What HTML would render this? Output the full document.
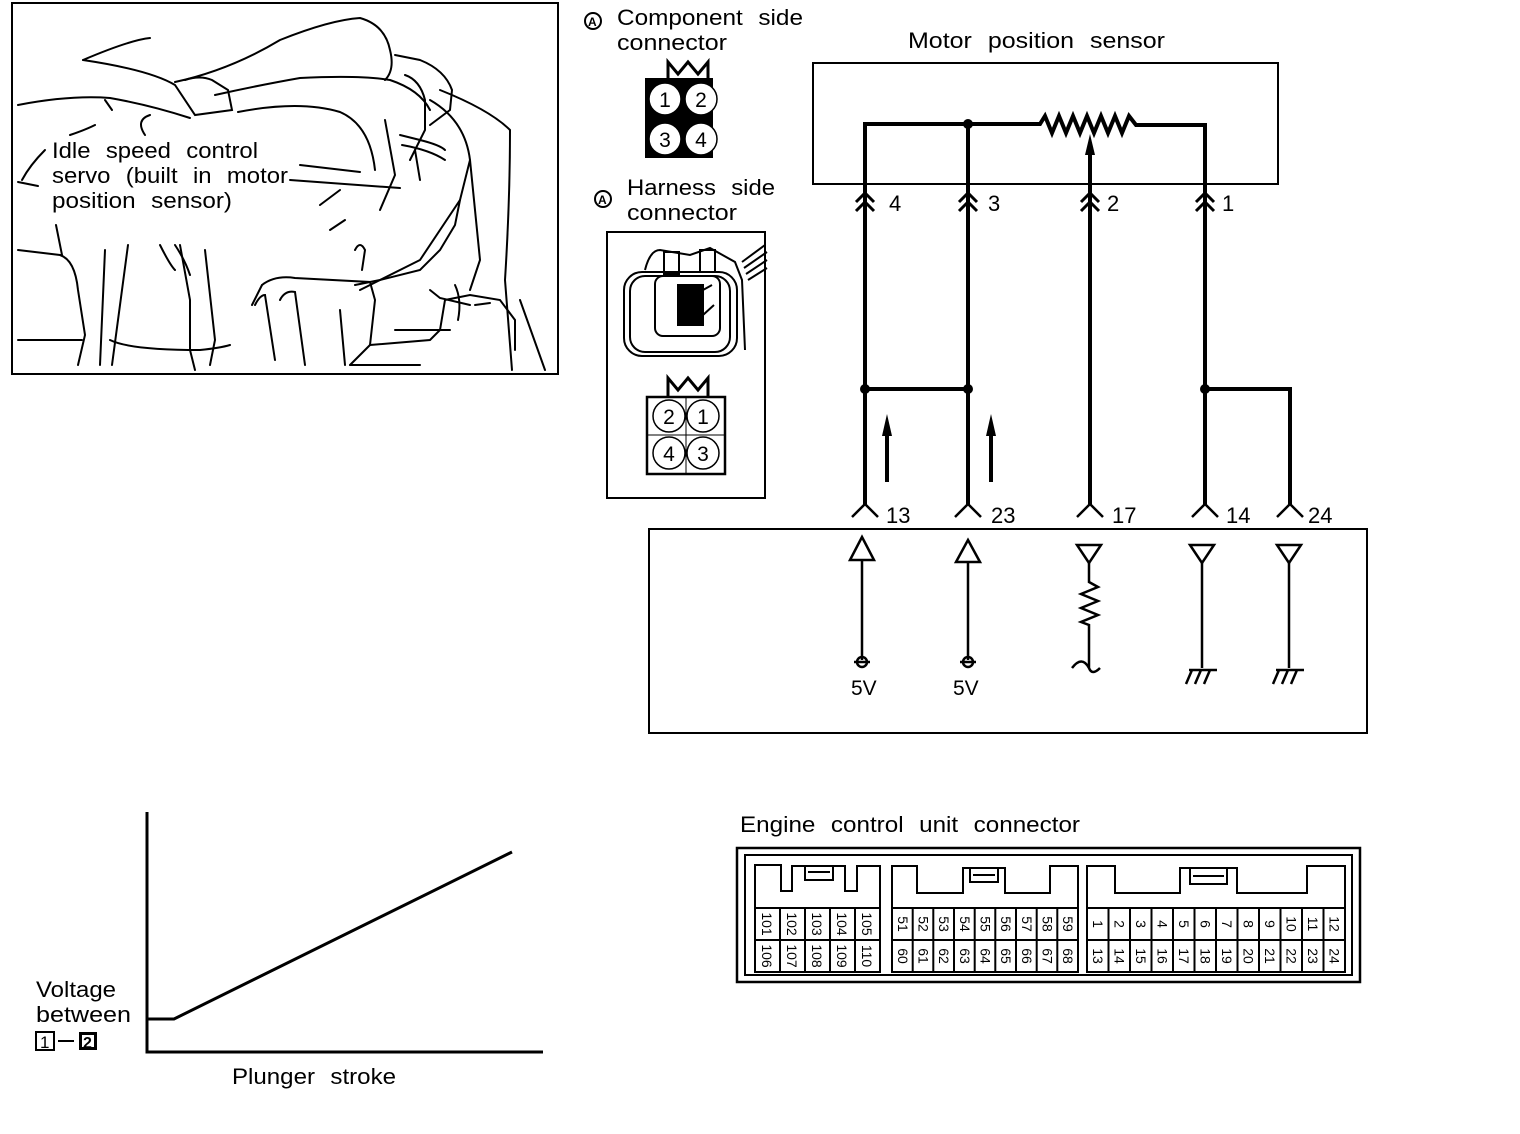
<!DOCTYPE html>
<html><head><meta charset="utf-8"><style>
html,body{margin:0;padding:0;background:#fff;}
svg{display:block;}
text{font-family:"Liberation Sans",Arial,sans-serif;fill:#000;}
.l{font-size:22px;word-spacing:8px;}
.c{font-size:14px;}
</style></head><body>
<svg width="1520" height="1134" viewBox="0 0 1520 1134" xmlns="http://www.w3.org/2000/svg">
<rect x="0" y="0" width="1520" height="1134" fill="#fff"/>
<!-- Illustration -->
<rect x="12" y="3" width="546" height="371" fill="none" stroke="#000" stroke-width="2"/>
<g fill="none" stroke="#000" stroke-width="2" stroke-linecap="round">
<path d="M83 60 Q130 40 150 38"/>
<path d="M83 60 Q150 70 175 85 L195 115 L232 110 L228 90 L212 80 Q200 75 185 80"/>
<path d="M175 82 Q230 70 280 40 Q330 20 360 18 Q385 25 390 50 Q395 70 385 80"/>
<path d="M215 95 Q260 85 300 78 Q360 75 390 80 Q420 90 430 110"/>
<path d="M238 112 Q300 100 340 112 Q370 125 375 170"/>
<path d="M18 105 Q70 95 110 98 Q150 105 190 118"/>
<path d="M105 100 L112 110 M70 135 Q85 130 95 125 M150 115 Q135 120 145 135"/>
<path d="M395 55 L420 60 Q445 70 452 90 L450 110 L430 125"/>
<path d="M405 75 Q420 80 425 100 L425 130 L410 160"/>
<path d="M430 100 Q465 120 470 160 L460 200 L420 260 L380 280 L360 290"/>
<path d="M440 90 Q490 110 510 130 Q510 200 505 280 L512 370"/>
<path d="M470 160 L480 260 L470 290 M520 300 L545 370"/>
<path d="M290 180 L400 188 M300 165 L360 172"/>
<path d="M45 150 Q30 165 22 180 M18 182 L38 186"/>
<path d="M56 225 L62 255 M18 250 L60 255 Q75 260 78 290 L85 335 L78 365"/>
<path d="M18 340 L82 340 M105 250 L100 365 M128 245 L112 365"/>
<path d="M180 245 L190 300 L190 350 L195 370 M205 250 L215 340 L210 365"/>
<path d="M110 340 Q130 350 200 350 Q220 348 230 345"/>
<path d="M175 245 Q185 260 190 275 M160 245 Q170 265 175 270"/>
<path d="M262 285 Q275 275 295 278 L370 282 L375 300 L370 345 L350 365"/>
<path d="M262 285 L252 305 M255 305 Q260 295 265 295 L275 360 M280 300 Q285 290 295 292 L305 365"/>
<path d="M355 285 L380 280 L420 270 L440 250 L455 225 L460 200"/>
<path d="M370 345 L430 340 L440 330 L445 300 L470 295 L500 300 L515 320 L515 350"/>
<path d="M430 290 L440 298 L470 305 M475 305 L490 303"/>
<path d="M395 330 L450 330 M455 285 Q462 300 458 320"/>
<path d="M340 310 L345 365 M350 365 L420 365"/>
<path d="M355 250 Q360 240 365 250 L362 270 M385 120 L395 175 L380 210"/>
<path d="M402 145 Q430 150 445 160 M400 135 L420 140 Q440 145 445 150"/>
<path d="M415 150 L420 180 M330 230 L345 220 M320 205 L340 190"/>
</g>
<text class="l" x="52" y="158" textLength="206" lengthAdjust="spacingAndGlyphs">Idle speed control</text>
<text class="l" x="52" y="183" textLength="236" lengthAdjust="spacingAndGlyphs">servo (built in motor</text>
<text class="l" x="52" y="208" textLength="180" lengthAdjust="spacingAndGlyphs">position sensor)</text>

<!-- Connector labels -->
<g fill="none" stroke="#000" stroke-width="2">
<circle cx="593" cy="21" r="8"/><circle cx="603" cy="199" r="8"/>
</g>
<text x="588" y="26" style="font-size:12px;font-weight:bold">A</text>
<text x="598" y="204" style="font-size:12px;font-weight:bold">A</text>
<text class="l" x="617" y="25" textLength="186" lengthAdjust="spacingAndGlyphs">Component side</text>
<text class="l" x="617" y="50" textLength="110" lengthAdjust="spacingAndGlyphs">connector</text>
<text class="l" x="627" y="195" textLength="148" lengthAdjust="spacingAndGlyphs">Harness side</text>
<text class="l" x="627" y="220" textLength="110" lengthAdjust="spacingAndGlyphs">connector</text>

<!-- component connector -->
<rect x="645" y="78" width="68" height="80" fill="#000"/>
<path d="M668 78 L668 62 L678 74 L688 62 L698 74 L708 62 L708 78" fill="none" stroke="#000" stroke-width="3"/>
<g fill="#fff" stroke="#000" stroke-width="1.5">
<circle cx="665" cy="99" r="16"/><circle cx="701" cy="99" r="16"/>
<circle cx="665" cy="139" r="16"/><circle cx="701" cy="139" r="16"/>
</g>
<g style="font-size:21px" text-anchor="middle">
<text x="665" y="107">1</text><text x="701" y="107">2</text>
<text x="665" y="147">3</text><text x="701" y="147">4</text>
</g>

<!-- harness box -->
<path d="M607 232 H765 V498 H607 Z" fill="none" stroke="#000" stroke-width="2"/>
<g fill="none" stroke="#000" stroke-width="2">
<rect x="624" y="272" width="113" height="84" rx="18"/>
<rect x="630" y="276" width="100" height="76" rx="15"/>
<rect x="655" y="276" width="65" height="60" rx="8"/>
<path d="M645 270 Q650 250 660 250 L690 255 L710 248 L735 262 L742 280 L745 350"/>
<rect x="664" y="252" width="15" height="22"/><rect x="700" y="250" width="15" height="22"/>
<path d="M742 262 L765 245 M744 268 L767 252 M746 274 L767 260 M748 280 L767 268"/>
<rect x="678" y="285" width="25" height="40" fill="#000"/>
<path d="M703 290 L712 285 M703 315 L714 305"/>
</g>
<!-- harness pin map -->
<rect x="647" y="397" width="78" height="77" fill="none" stroke="#000" stroke-width="2.5"/>
<path d="M668 397 L668 378 L678 390 L688 378 L698 390 L708 378 L708 397" fill="none" stroke="#000" stroke-width="3"/>
<path d="M686 397 V474 M647 435 H725" stroke="#000" stroke-width="1"/>
<g fill="#fff" stroke="#000" stroke-width="1.5">
<circle cx="669" cy="416" r="16"/><circle cx="703" cy="416" r="16"/>
<circle cx="669" cy="453" r="16"/><circle cx="703" cy="453" r="16"/>
</g>
<g style="font-size:21px" text-anchor="middle">
<text x="669" y="424">2</text><text x="703" y="424">1</text>
<text x="669" y="461">4</text><text x="703" y="461">3</text>
</g>

<!-- Motor position sensor -->
<text class="l" x="908" y="48" textLength="257" lengthAdjust="spacingAndGlyphs">Motor position sensor</text>
<rect x="813" y="63" width="465" height="121" fill="none" stroke="#000" stroke-width="2"/>
<g fill="none" stroke="#000" stroke-width="4">
<path d="M865 505 V124 H1040 L1045 116 L1052 133 L1059 116 L1066 133 L1073 116 L1080 133 L1087 116 L1094 133 L1101 116 L1108 133 L1115 116 L1122 133 L1129 116 L1136 125 H1205 V505"/>
<path d="M968 124 V505"/>
<path d="M1090 505 V150"/>
<path d="M865 389 H968 M1205 389 H1290 V505"/>
<path d="M887 482 V430 M991 482 V430"/>
</g>
<g fill="#000">
<path d="M1090 134 L1085 155 H1095 Z"/>
<circle cx="968" cy="124" r="5"/>
<circle cx="865" cy="389" r="5"/><circle cx="968" cy="389" r="5"/><circle cx="1205" cy="389" r="5"/>
<path d="M887 414 L882 436 H892 Z"/><path d="M991 414 L986 436 H996 Z"/>
</g>
<g fill="none" stroke="#000" stroke-width="3">
<path d="M856 202 L865 193 L874 202 M856 211 L865 202 L874 211"/>
<path d="M959 202 L968 193 L977 202 M959 211 L968 202 L977 211"/>
<path d="M1081 202 L1090 193 L1099 202 M1081 211 L1090 202 L1099 211"/>
<path d="M1196 202 L1205 193 L1214 202 M1196 211 L1205 202 L1214 211"/>
</g>
<g style="font-size:22px">
<text x="889" y="211">4</text><text x="988" y="211">3</text><text x="1107" y="211">2</text><text x="1222" y="211">1</text>
</g>

<!-- ECU -->
<g fill="none" stroke="#000" stroke-width="2.5">
<path d="M852 517 L865 504 L878 517"/><path d="M955 517 L968 504 L981 517"/>
<path d="M1077 517 L1090 504 L1103 517"/><path d="M1192 517 L1205 504 L1218 517"/>
<path d="M1277 517 L1290 504 L1303 517"/>
</g>
<g style="font-size:22px">
<text x="886" y="523">13</text><text x="991" y="523">23</text><text x="1112" y="523">17</text><text x="1226" y="523">14</text><text x="1308" y="523">24</text>
</g>
<rect x="649" y="529" width="718" height="204" fill="none" stroke="#000" stroke-width="2"/>
<g fill="none" stroke="#000" stroke-width="2.5">
<path d="M862 537 L850 560 H874 Z"/><path d="M968 540 L956 562 H980 Z"/>
<path d="M862 560 V660 M968 562 V660"/>
<circle cx="862" cy="662" r="5"/><circle cx="968" cy="662" r="5"/>
<path d="M854 662 H870 M960 662 H976"/>
<path d="M1077 545 H1101 L1089 563 Z"/><path d="M1190 545 H1214 L1202 563 Z"/><path d="M1277 545 H1301 L1289 563 Z"/>
<path d="M1089 563 V582 L1098 587 L1081 594 L1098 601 L1081 608 L1098 615 L1081 622 L1089 625 V668 Q1092 676 1100 668 M1089 668 Q1082 655 1072 668"/>
<path d="M1202 563 V668 M1289 563 V668"/>
<path d="M1189 670 H1217 M1192 670 L1186 684 M1201 670 L1195 684 M1210 670 L1204 684"/>
<path d="M1276 670 H1304 M1279 670 L1273 684 M1288 670 L1282 684 M1297 670 L1291 684"/>
</g>
<g style="font-size:21px">
<text x="851" y="695">5V</text><text x="953" y="695">5V</text>
</g>

<!-- Graph -->
<g fill="none" stroke="#000" stroke-width="3">
<path d="M147 812 V1052 H543"/>
<path d="M147 1019 H174 L512 852"/>
</g>
<text class="l" x="36" y="997" textLength="80" lengthAdjust="spacingAndGlyphs">Voltage</text>
<text class="l" x="36" y="1022" textLength="95" lengthAdjust="spacingAndGlyphs">between</text>
<text class="l" x="232" y="1084" textLength="164" lengthAdjust="spacingAndGlyphs">Plunger stroke</text>
<rect x="36" y="1032" width="18" height="18" fill="none" stroke="#000" stroke-width="2"/>
<text x="40" y="1048" style="font-size:17px">1</text>
<path d="M58 1041 H74" stroke="#000" stroke-width="2"/>
<rect x="79" y="1032" width="18" height="18" fill="#000"/>
<rect x="82" y="1035" width="12" height="12" fill="#fff"/>
<text x="83" y="1048" style="font-size:16px;font-weight:bold">2</text>

<!-- ECU connector -->
<text class="l" x="740" y="832" textLength="340" lengthAdjust="spacingAndGlyphs">Engine control unit connector</text>
<rect x="737" y="848" width="623" height="134" fill="none" stroke="#000" stroke-width="2.5"/>
<rect x="745" y="855" width="607" height="120" fill="none" stroke="#000" stroke-width="2"/>
<g fill="none" stroke="#000" stroke-width="2">
<path d="M755 972 V865 H781 V891 H792 V866 H845 V891 H857 V866 H880 V972 Z"/>
<path d="M805 866 V880 H833 V866 M808 872 H830"/>
<path d="M892 972 V866 H917 V893 H963 V868 H1005 V893 H1050 V866 H1078 V972 Z"/>
<path d="M970 868 V882 H998 V868 M973 875 H995"/>
<path d="M1087 972 V866 H1115 V893 H1180 V868 H1237 V893 H1307 V866 H1345 V972 Z"/>
<path d="M1190 868 V884 H1227 V868 M1193 876 H1224"/>
<path d="M755 908 H880 M755 940 H880 M892 908 H1078 M892 940 H1078 M1087 908 H1345 M1087 940 H1345"/>
<path d="M780 908 V972 M805 908 V972 M830 908 V972 M855 908 V972"/>
<path d="M912.7 908 V972 M933.3 908 V972 M954 908 V972 M974.7 908 V972 M995.3 908 V972 M1016 908 V972 M1036.7 908 V972 M1057.3 908 V972"/>
<path d="M1108.5 908 V972 M1130 908 V972 M1151.5 908 V972 M1173 908 V972 M1194.5 908 V972 M1216 908 V972 M1237.5 908 V972 M1259 908 V972 M1280.5 908 V972 M1302 908 V972 M1323.5 908 V972"/>
</g>
<g class="c" text-anchor="middle">
<text transform="translate(762,924) rotate(90)">101</text><text transform="translate(787,924) rotate(90)">102</text><text transform="translate(812,924) rotate(90)">103</text><text transform="translate(837,924) rotate(90)">104</text><text transform="translate(862,924) rotate(90)">105</text>
<text transform="translate(762,956) rotate(90)">106</text><text transform="translate(787,956) rotate(90)">107</text><text transform="translate(812,956) rotate(90)">108</text><text transform="translate(837,956) rotate(90)">109</text><text transform="translate(862,956) rotate(90)">110</text>
<text transform="translate(898,924) rotate(90)">51</text><text transform="translate(918.5,924) rotate(90)">52</text><text transform="translate(939,924) rotate(90)">53</text><text transform="translate(960,924) rotate(90)">54</text><text transform="translate(980.5,924) rotate(90)">55</text><text transform="translate(1001,924) rotate(90)">56</text><text transform="translate(1022,924) rotate(90)">57</text><text transform="translate(1042.5,924) rotate(90)">58</text><text transform="translate(1063,924) rotate(90)">59</text>
<text transform="translate(898,956) rotate(90)">60</text><text transform="translate(918.5,956) rotate(90)">61</text><text transform="translate(939,956) rotate(90)">62</text><text transform="translate(960,956) rotate(90)">63</text><text transform="translate(980.5,956) rotate(90)">64</text><text transform="translate(1001,956) rotate(90)">65</text><text transform="translate(1022,956) rotate(90)">66</text><text transform="translate(1042.5,956) rotate(90)">67</text><text transform="translate(1063,956) rotate(90)">68</text>
<text transform="translate(1093,924) rotate(90)">1</text><text transform="translate(1114.5,924) rotate(90)">2</text><text transform="translate(1136,924) rotate(90)">3</text><text transform="translate(1157.5,924) rotate(90)">4</text><text transform="translate(1179,924) rotate(90)">5</text><text transform="translate(1200.5,924) rotate(90)">6</text><text transform="translate(1222,924) rotate(90)">7</text><text transform="translate(1243.5,924) rotate(90)">8</text><text transform="translate(1265,924) rotate(90)">9</text><text transform="translate(1286.5,924) rotate(90)">10</text><text transform="translate(1308,924) rotate(90)">11</text><text transform="translate(1329.5,924) rotate(90)">12</text>
<text transform="translate(1093,956) rotate(90)">13</text><text transform="translate(1114.5,956) rotate(90)">14</text><text transform="translate(1136,956) rotate(90)">15</text><text transform="translate(1157.5,956) rotate(90)">16</text><text transform="translate(1179,956) rotate(90)">17</text><text transform="translate(1200.5,956) rotate(90)">18</text><text transform="translate(1222,956) rotate(90)">19</text><text transform="translate(1243.5,956) rotate(90)">20</text><text transform="translate(1265,956) rotate(90)">21</text><text transform="translate(1286.5,956) rotate(90)">22</text><text transform="translate(1308,956) rotate(90)">23</text><text transform="translate(1329.5,956) rotate(90)">24</text>
</g>
</svg>
</body></html>
